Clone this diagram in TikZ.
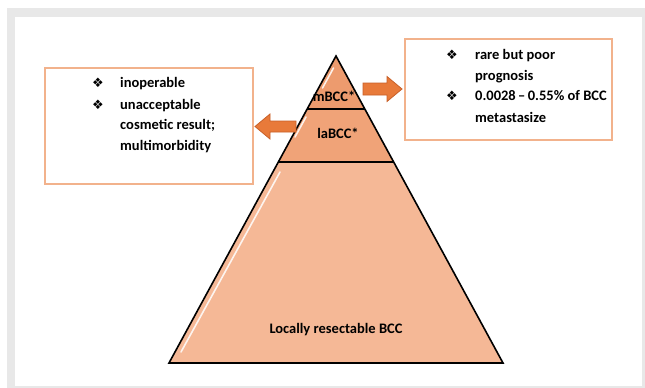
\documentclass[tikz,border=0pt]{standalone}
\usepackage{fontspec}
\setmainfont{Carlito}
\newfontfamily\symfont{DejaVu Sans}
\definecolor{framegray}{RGB}{232,232,232}
\definecolor{baselayer}{RGB}{245,184,150}
\definecolor{midlayer}{RGB}{240,163,120}
\definecolor{toplayer}{RGB}{237,155,110}
\definecolor{boxborder}{RGB}{242,178,140}
\definecolor{arrowfill}{RGB}{232,122,58}
\definecolor{arrowdraw}{RGB}{200,96,40}
\begin{document}
\begin{tikzpicture}[x=1pt,y=-1pt,
  txt/.style={anchor=mid west,inner sep=0pt,font=\bfseries\fontsize{14.5}{16}\selectfont},
  bul/.style={anchor=mid,inner sep=0pt,font=\symfont\fontsize{13}{14}\selectfont},
  lbl/.style={anchor=mid,inner sep=0pt,font=\bfseries\fontsize{14.5}{16}\selectfont},
  infobox/.style={draw=boxborder,line width=1.3pt,fill=white},
  blockarrow/.style={fill=arrowfill,draw=arrowdraw,line width=0.8pt,line join=miter},
  layer/.style={draw=black,line width=1.6pt,line join=miter}]
\useasboundingbox (0,0) rectangle (645,388);
\fill[white] (0,0) rectangle (645,388);
\fill[framegray] (7,8) rectangle (645,388);
\fill[white] (15,17) rectangle (642,386);
% pyramid
\coordinate (apex) at (336,56);
\coordinate (m1l) at (307.2,109); \coordinate (m1r) at (364.8,109);
\coordinate (m2l) at (278.3,162); \coordinate (m2r) at (393.7,162);
\coordinate (bl) at (169,363); \coordinate (br) at (503,363);
\fill[baselayer] (m2l) -- (m2r) -- (br) -- (bl) -- cycle;
\fill[midlayer] (m1l) -- (m1r) -- (m2r) -- (m2l) -- cycle;
\fill[toplayer] (apex) -- (m1r) -- (m1l) -- cycle;
% highlights
\draw[white,line width=1.6pt,opacity=0.85,line cap=round] (333.5,68) -- (322.5,88);
\draw[white,line width=1.6pt,opacity=0.85,line cap=round] (306,117) -- (295,137);
\draw[white,line width=1.6pt,opacity=0.85,line cap=round] (280,172) -- (181,352);
\draw[layer] (apex) -- (br) -- (bl) -- cycle;
\draw[layer] (m1l) -- (m1r);
\draw[layer] (m2l) -- (m2r);
\node[lbl] (mbcc) at (334,99) {mBCC*};
\node[lbl] (labcc) at (338,136) {laBCC*};
\node[lbl] (lrbcc) at (336,331) {Locally resectable BCC};
% left box
\node[infobox,minimum width=208pt,minimum height=116pt,inner sep=0pt] (lbox) at (149,126) {};
\node[bul] (lb1) at (98,85) {❖};
\node[txt] (lt1) at (120,85) {inoperable};
\node[bul] (lb2) at (98,107) {❖};
\node[txt] (lt2) at (120,107) {unacceptable};
\node[txt] (lt3) at (120,127.5) {cosmetic result;};
\node[txt] (lt4) at (120,148) {multimorbidity};
% right box
\node[infobox,minimum width=207pt,minimum height=101pt,inner sep=0pt] (rbox) at (508.5,89.5) {};
\node[bul] (rb1) at (452,57) {❖};
\node[txt] (rt1) at (475,57) {rare but poor};
\node[txt] (rt2) at (475,78) {prognosis};
\node[bul] (rb2) at (452,98) {❖};
\node[txt] (rt3) at (475,98) {0.0028\,–\,0.55\% of BCC};
\node[txt] (rt4) at (475,120) {metastasize};
% arrows
\draw[blockarrow] (363,83) -- (387,83) -- (387,76.5) -- (402,89) -- (387,101.5) -- (387,95) -- (363,95) -- cycle;
\draw[blockarrow] (296,121) -- (270,121) -- (270,114) -- (255,126.5) -- (270,139) -- (270,132) -- (296,132) -- cycle;
\end{tikzpicture}
\end{document}
